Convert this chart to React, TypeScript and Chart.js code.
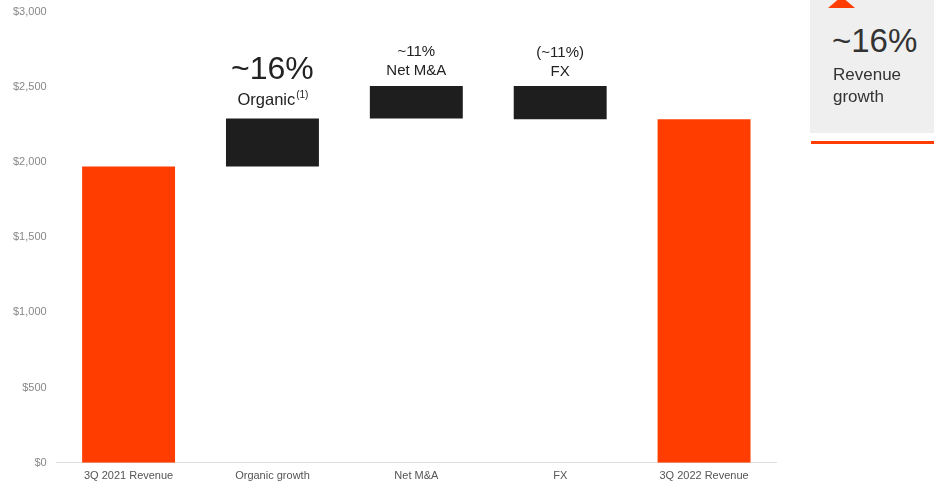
import React, { useEffect, useRef } from "react";
import { Chart, registerables } from "chart.js";

Chart.register(...registerables);

const categories = ["3Q 2021 Revenue", "Organic growth", "Net M&A", "FX", "3Q 2022 Revenue"];
const barLows = [0, 1970, 2290, 2285, 0];
const barHighs = [1970, 2290, 2505, 2505, 2285];
const barColors = ["#ff3d00", "#1e1e1e", "#1e1e1e", "#1e1e1e", "#ff3d00"];
const yTicks = [0, 500, 1000, 1500, 2000, 2500, 3000];

const FONT = "'Liberation Sans', Arial, sans-serif";

const annotationPlugin = {
  id: "annots",
  afterDatasetsDraw(chart: any) {
    const ctx = chart.ctx;
    const meta = chart.getDatasetMeta(0);
    ctx.save();
    ctx.fillStyle = "#222";
    ctx.textAlign = "center";
    ctx.textBaseline = "middle";
    // Organic
    const o = meta.data[1];
    ctx.font = `32px ${FONT}`;
    ctx.fillText("~16%", o.x, o.y - 48);
    ctx.font = `16.5px ${FONT}`;
    const w1 = ctx.measureText("Organic").width;
    ctx.font = `10px ${FONT}`;
    const w2 = ctx.measureText("(1)").width;
    const startX = o.x - (w1 + w2) / 2;
    ctx.textAlign = "left";
    ctx.font = `16.5px ${FONT}`;
    ctx.fillText("Organic", startX, o.y - 18);
    ctx.font = `10px ${FONT}`;
    ctx.fillText("(1)", startX + w1 + 1, o.y - 23);
    ctx.textAlign = "center";
    // Net M&A
    const n = meta.data[2];
    ctx.font = `15px ${FONT}`;
    ctx.fillText("~11%", n.x, n.y - 34);
    ctx.fillText("Net M&A", n.x, n.y - 15);
    // FX
    const f = meta.data[3];
    ctx.fillText("(~11%)", f.x, f.y - 33);
    ctx.fillText("FX", f.x, f.y - 14);
    ctx.restore();
  },
};

export default function App() {
  const ref = useRef<HTMLCanvasElement>(null);
  useEffect(() => {
    document.body.style.margin = "0";
    const chart = new Chart(ref.current!, {
      type: "bar",
      data: {
        labels: categories,
        datasets: [
          {
            data: barLows.map((l, i) => [l, barHighs[i]]) as any,
            backgroundColor: barColors,
            barPercentage: 0.646,
            categoryPercentage: 1,
          },
        ],
      },
      options: {
        animation: false,
        responsive: false,
        layout: { padding: { top: 0, right: 158, bottom: 0, left: 3 } },
        plugins: { legend: { display: false }, tooltip: { enabled: false } },
        scales: {
          x: {
            grid: { display: false, drawTicks: false },
            border: { color: "#dddddd", width: 1 },
            ticks: { color: "#555", font: { family: FONT, size: 11 }, padding: 7 },
          },
          y: {
            min: 0,
            max: 3000,
            afterBuildTicks: (axis: any) => {
              axis.ticks = yTicks.map((v) => ({ value: v }));
            },
            grid: { display: false, drawTicks: false },
            border: { display: false },
            ticks: {
              color: "#888",
              font: { family: FONT, size: 11 },
              padding: 10,
              callback: (v: any) => "$" + Number(v).toLocaleString("en-US"),
            },
          },
        },
      },
      plugins: [annotationPlugin],
    });
    return () => chart.destroy();
  }, []);

  return (
    <div style={{ position: "relative", width: 934, height: 488, background: "#fff", overflow: "hidden" }}>
      <canvas ref={ref} width={934} height={495} style={{ position: "absolute", left: 0, top: -5 }} />
      <div style={{ position: "absolute", left: 810, top: 0, width: 124, height: 133, background: "#efefef" }} />
      <div
        style={{
          position: "absolute",
          left: 828,
          top: 0,
          width: 27,
          height: 8,
          background: "#ff3d00",
          clipPath: "polygon(35% 0, 65% 0, 100% 100%, 0 100%)",
        }}
      />
      <div style={{ position: "absolute", left: 832, top: 21, fontFamily: FONT, fontSize: 33, color: "#333", lineHeight: "40px" }}>
        ~16%
      </div>
      <div style={{ position: "absolute", left: 833, top: 64, fontFamily: FONT, fontSize: 17, color: "#333", lineHeight: "22px" }}>
        Revenue
        <br />
        growth
      </div>
      <div style={{ position: "absolute", left: 811, top: 141, width: 123, height: 3, background: "#ff3d00" }} />
    </div>
  );
}
